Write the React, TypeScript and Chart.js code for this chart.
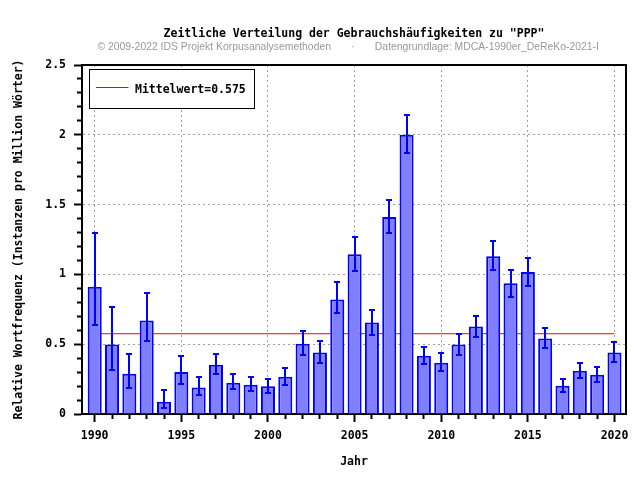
import React, { useEffect, useRef } from 'react';
import { Chart, registerables } from 'chart.js';

Chart.register(...registerables);

// ---- data ----
const YEARS = [
  1990, 1991, 1992, 1993, 1994, 1995, 1996, 1997, 1998, 1999,
  2000, 2001, 2002, 2003, 2004, 2005, 2006, 2007, 2008, 2009,
  2010, 2011, 2012, 2013, 2014, 2015, 2016, 2017, 2018, 2019, 2020,
];
const VALUES = [
  0.912, 0.497, 0.289, 0.670, 0.087, 0.301, 0.190, 0.353, 0.224, 0.210,
  0.198, 0.267, 0.504, 0.440, 0.821, 1.145, 0.655, 1.411, 2.001, 0.418,
  0.368, 0.497, 0.627, 1.130, 0.936, 1.018, 0.540, 0.202, 0.310, 0.281, 0.440,
];
const ERR_LOW = [
  0.639, 0.317, 0.188, 0.526, 0.044, 0.217, 0.138, 0.286, 0.181, 0.166,
  0.152, 0.209, 0.423, 0.365, 0.720, 1.027, 0.567, 1.294, 1.871, 0.360,
  0.310, 0.425, 0.555, 1.030, 0.840, 0.919, 0.473, 0.159, 0.258, 0.231, 0.373,
];
const ERR_HIGH = [
  1.296, 0.768, 0.430, 0.864, 0.173, 0.418, 0.267, 0.430, 0.286, 0.267,
  0.253, 0.332, 0.598, 0.526, 0.943, 1.267, 0.747, 1.533, 2.145, 0.481,
  0.437, 0.576, 0.704, 1.236, 1.035, 1.121, 0.619, 0.250, 0.365, 0.339, 0.519,
];
const MEAN = 0.575;
const MEAN_SPAN = [1990, 2020];

// ---- texts ----
const TITLE = 'Zeitliche Verteilung der Gebrauchshäufigkeiten zu "PPP"';
const SUBTITLE =
  '© 2009-2022 IDS Projekt Korpusanalysemethoden       ·       Datengrundlage: MDCA-1990er_DeReKo-2021-I    ';
const X_TITLE = 'Jahr';
const Y_TITLE = 'Relative Wortfrequenz (Instanzen pro Million Wörter)';
const LEGEND_LABEL = 'Mittelwert=' + MEAN.toFixed(3);

// ---- axis ranges ----
const X_MIN = 1989.267;
const X_MAX = 2020.664;
const Y_MIN = 0;
const Y_MAX = 2.5;

// ---- styles ----
const MONO = "'DejaVu Sans Mono', monospace";
const BAR_FILL = '#8080ff';
const BAR_BORDER = '#0000ff';
const ERR_COLOR = '#0000ff';
const MEAN_COLOR = '#ff0000';
const GRID_COLOR = '#a0a0a0';
const NONE = 'rgba(0,0,0,0)';
const monoFont = { family: MONO, size: 11.5, weight: 'bold' as const, lineHeight: '13px' };

const isMajorX = (v: number) => Math.round(v) % 5 === 0;
const isMajorY = (v: number) => Math.round(v * 10) % 5 === 0;

const errorBarPlugin = {
  id: 'errorBars',
  afterDatasetsDraw(chart: any) {
    const { ctx } = chart;
    const xs = chart.scales.x;
    const ys = chart.scales.y;
    ctx.save();
    ctx.strokeStyle = ERR_COLOR;
    ctx.lineWidth = 2;
    ctx.lineCap = 'butt';
    YEARS.forEach((yr, i) => {
      const px = Math.round(xs.getPixelForValue(yr));
      const top = Math.round(ys.getPixelForValue(ERR_HIGH[i]));
      const bot = Math.round(ys.getPixelForValue(ERR_LOW[i]));
      ctx.beginPath();
      ctx.moveTo(px, top);
      ctx.lineTo(px, bot);
      ctx.moveTo(px - 3, top);
      ctx.lineTo(px + 3, top);
      ctx.moveTo(px - 3, bot);
      ctx.lineTo(px + 3, bot);
      ctx.stroke();
    });
    ctx.restore();
  },
};

const frameLegendPlugin = {
  id: 'frameLegend',
  afterDraw(chart: any) {
    const { ctx, chartArea: a } = chart;
    ctx.save();
    // top and right frame
    ctx.strokeStyle = '#000';
    ctx.lineWidth = 2;
    const t = Math.round(a.top);
    const r = Math.round(a.right);
    ctx.beginPath();
    ctx.moveTo(a.left - 1, t);
    ctx.lineTo(r + 1, t);
    ctx.moveTo(r, t);
    ctx.lineTo(r, a.bottom + 1);
    ctx.stroke();

    // legend box
    const bx = Math.round(a.left + 7) + 0.5;
    const by = Math.round(a.top + 4) + 0.5;
    const bw = 165;
    const bh = 39;
    ctx.fillStyle = '#fff';
    ctx.fillRect(bx, by, bw, bh);
    ctx.lineWidth = 1;
    ctx.strokeStyle = '#000';
    ctx.strokeRect(bx, by, bw, bh);
    ctx.strokeStyle = MEAN_COLOR;
    ctx.beginPath();
    ctx.moveTo(bx + 6.5, by + 18);
    ctx.lineTo(bx + 39, by + 18);
    ctx.stroke();
    ctx.fillStyle = '#000';
    ctx.font = `bold 11.5px ${MONO}`;
    ctx.textAlign = 'left';
    ctx.textBaseline = 'middle';
    ctx.fillText(LEGEND_LABEL, bx + 45.5, by + 20.5);
    ctx.restore();
  },
};

export default function App() {
  const canvasRef = useRef<HTMLCanvasElement | null>(null);

  useEffect(() => {
    const canvas = canvasRef.current;
    if (!canvas) return;
    const chart = new Chart(canvas, {
      type: 'bar',
      data: {
        datasets: [
          {
            type: 'bar',
            label: 'Relative Wortfrequenz',
            data: YEARS.map((yr, i) => ({ x: yr, y: VALUES[i] })),
            backgroundColor: BAR_FILL,
            borderColor: BAR_BORDER,
            borderWidth: 2,
            categoryPercentage: 1,
            barPercentage: 0.81,
            order: 0,
          } as any,
          {
            type: 'line',
            label: LEGEND_LABEL,
            data: MEAN_SPAN.map((x) => ({ x, y: MEAN })),
            borderColor: MEAN_COLOR,
            borderWidth: 1,
            pointRadius: 0,
            fill: false,
            order: 1,
          } as any,
        ],
      },
      options: {
        responsive: false,
        animation: false,
        layout: { padding: { left: 0, right: 14, top: 0, bottom: 0 } },
        plugins: {
          legend: { display: false },
          tooltip: { enabled: false },
          title: {
            display: true,
            text: TITLE,
            fullSize: false,
            color: '#000',
            font: monoFont,
            padding: { top: 28, bottom: 0 },
          },
          subtitle: {
            display: true,
            text: SUBTITLE,
            fullSize: false,
            color: '#999',
            font: { family: "'Liberation Sans', Arial, sans-serif", size: 10.4, weight: 'normal', lineHeight: '13px' },
            padding: { top: 0, bottom: 11 },
          },
        },
        scales: {
          x: {
            type: 'linear',
            position: 'bottom',
            min: X_MIN,
            max: X_MAX,
            offset: false,
            afterFit: (s: any) => {
              s.height = 66;
            },
            ticks: {
              stepSize: 1,
              includeBounds: false,
              autoSkip: false,
              maxRotation: 0,
              padding: 8,
              color: '#000',
              font: monoFont,
              callback: (v: any) => (isMajorX(Number(v)) ? String(v) : ''),
            },
            grid: {
              offset: false,
              color: (c: any) => (c.tick && isMajorX(c.tick.value) ? GRID_COLOR : NONE),
              lineWidth: 1,
              tickLength: 8,
              tickColor: '#000',
              tickWidth: 2,
              tickBorderDash: (c: any) => (c.tick && isMajorX(c.tick.value) ? [] : [4, 100]),
            },
            border: { display: true, color: '#000', width: 2, dash: [2, 3] },
            title: {
              display: true,
              text: X_TITLE,
              color: '#000',
              font: monoFont,
              padding: { top: 0, bottom: 11 },
            },
          } as any,
          y: {
            type: 'linear',
            min: Y_MIN,
            max: Y_MAX,
            afterFit: (s: any) => {
              s.width = 82;
            },
            ticks: {
              stepSize: 0.1,
              autoSkip: false,
              padding: 8,
              color: '#000',
              font: monoFont,
              callback: (v: any) => (isMajorY(Number(v)) ? String(Math.round(Number(v) * 10) / 10) : ''),
            },
            grid: {
              color: (c: any) => (c.tick && isMajorY(c.tick.value) ? GRID_COLOR : NONE),
              lineWidth: 1,
              tickLength: 8,
              tickColor: '#000',
              tickWidth: 2,
              tickBorderDash: (c: any) => (c.tick && isMajorY(c.tick.value) ? [] : [0, 3, 4, 100]),
            },
            border: { display: true, color: '#000', width: 2, dash: [2, 3] },
            title: {
              display: true,
              text: Y_TITLE,
              color: '#000',
              font: monoFont,
              padding: { top: 13, bottom: 0 },
            },
          } as any,
        },
      },
      plugins: [errorBarPlugin, frameLegendPlugin],
    } as any);
    return () => chart.destroy();
  }, []);

  return (
    <div style={{ position: 'absolute', left: 0, top: 0, width: 640, height: 480, background: '#fff' }}>
      <canvas ref={canvasRef} width={640} height={480} style={{ display: 'block' }} />
    </div>
  );
}
